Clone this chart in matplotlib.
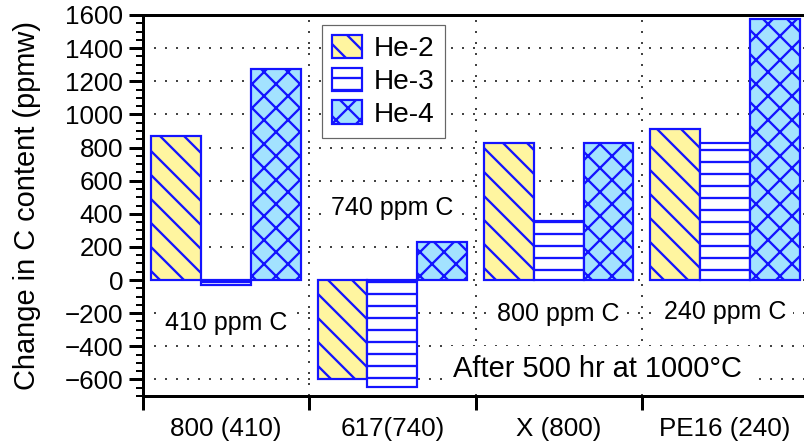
import numpy as np
import matplotlib
matplotlib.use('Agg')
import matplotlib.pyplot as plt
from matplotlib.patches import FancyBboxPatch
from matplotlib.legend_handler import HandlerPatch
from matplotlib.ticker import MultipleLocator, FixedLocator

# carbon change after 500 hr at 1000C, ppmw
alloys = ['800 (410)', '617(740)', 'X (800)', 'PE16 (240)']
carbon = ['410 ppm C', '740 ppm C', '800 ppm C', '240 ppm C']
he2 = [870, -600, 830, 910]
he3 = [-30, -645, 355, 825]
he4 = [1272, 230, 825, 1575]

plt.rcParams['font.family'] = ['Liberation Sans', 'DejaVu Sans']
plt.rcParams['hatch.linewidth'] = 2.3

blue = '#1414ff'
grid_style = dict(color='#444444', linestyle=(0, (1, 4.5)), linewidth=2)

# 72 dpi so that one point is one pixel (keeps the hatch spacing tight)
fig = plt.figure(figsize=(804 / 72, 448 / 72), dpi=72)
ax = fig.add_axes([143 / 804, 52 / 448, 665 / 804, 381 / 448])

x = np.arange(len(alloys))
w = 0.3
ax.bar(x - w, he2, w, facecolor='#fff5a0', edgecolor=blue, hatch='\\', linewidth=2.2, label='He-2', zorder=3)
ax.bar(x, he3, w, facecolor='white', edgecolor=blue, hatch='-', linewidth=2.2, label='He-3', zorder=3)
ax.bar(x + w, he4, w, facecolor='#a3e2ff', edgecolor=blue, hatch='x', linewidth=2.2, label='He-4', zorder=3)

ax.set_xlim(-0.5, 3.5)
ax.set_ylim(-700, 1600)

ax.yaxis.set_major_locator(MultipleLocator(200))
ax.yaxis.set_minor_locator(MultipleLocator(50))
ax.xaxis.set_major_locator(FixedLocator([-0.5, 0.5, 1.5, 2.5, 3.5]))
ax.xaxis.set_minor_locator(FixedLocator(x))
ax.xaxis.set_major_formatter(plt.NullFormatter())
ax.set_xticks(x, alloys, minor=True)

ax.tick_params(axis='y', which='major', length=14, width=3, labelsize=26, pad=6)
ax.tick_params(axis='y', which='minor', length=7, width=2)
ax.tick_params(axis='x', which='major', length=14, width=3)
ax.tick_params(axis='x', which='minor', length=0, labelsize=26, pad=21)

ax.set_axisbelow(True)
ax.grid(axis='y', which='major', **grid_style)
ax.grid(axis='x', which='major', **grid_style)

for s in ['left', 'bottom', 'top']:
    ax.spines[s].set_linewidth(3)
ax.spines['right'].set_visible(False)

# carbon level of each alloy
label_pos = [(0, -302), (1, 392), (2, -247), (3, -235)]
for (px, py), txt in zip(label_pos, carbon):
    ax.text(px, py, txt, fontsize=25, ha='center', va='baseline', zorder=4,
            bbox=dict(facecolor='white', edgecolor='none', pad=7))

ax.text(2.236, -585, 'After 500 hr at 1000°C', fontsize=29, ha='center', va='baseline', zorder=4,
        bbox=dict(facecolor='white', edgecolor='none', pad=9))

fig.text(27 / 804, 1 - 206 / 448, 'Change in C content (ppmw)', fontsize=29,
         rotation=90, ha='center', va='center')


def rounded_box(legend, orig_handle, xdescent, ydescent, width, height, fontsize):
    return FancyBboxPatch((-xdescent, -ydescent), width, height,
                          boxstyle='round,pad=0,rounding_size=6')


leg = ax.legend(loc='upper left', bbox_to_anchor=(0.269, 0.974), borderaxespad=0,
                fontsize=28, handlelength=1.07, handleheight=0.9, handletextpad=0.45,
                labelspacing=0.2, borderpad=0.35, fancybox=False, framealpha=1,
                edgecolor='#666666', handler_map={matplotlib.patches.Rectangle: HandlerPatch(patch_func=rounded_box)})
leg.get_frame().set_linewidth(1.2)
leg.set_zorder(5)

fig.savefig('out.png', dpi=72)
